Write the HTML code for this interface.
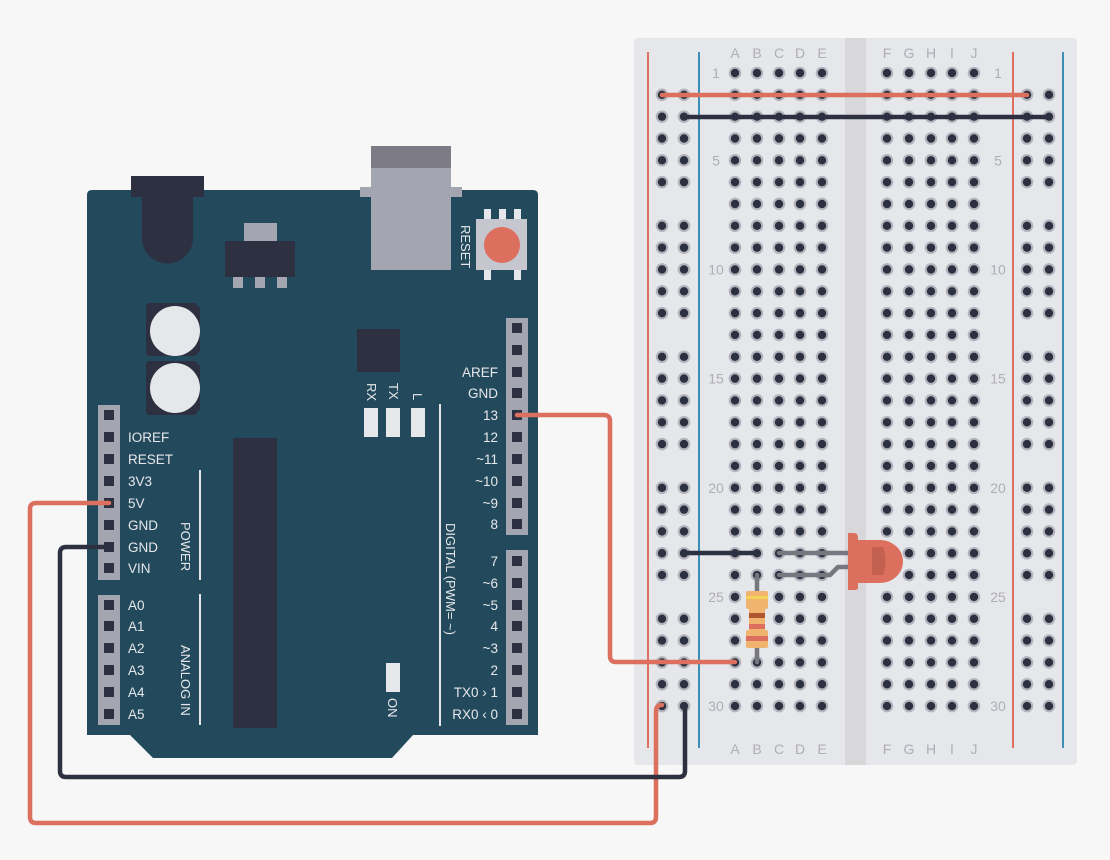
<!DOCTYPE html>
<html><head><meta charset="utf-8"><style>
body{margin:0;background:#f7f7f7;width:1110px;height:860px;overflow:hidden}
svg{display:block}
text{font-family:"Liberation Sans",sans-serif}
</style></head><body>
<svg id="s" width="1110" height="860" xmlns="http://www.w3.org/2000/svg">
<rect x="634" y="38" width="443" height="727" rx="4" fill="#e6e7ea"/>
<rect x="845" y="38" width="21" height="727" fill="#d8d8db"/>
<line x1="648" y1="52" x2="648" y2="748" stroke="#dc6f5d" stroke-width="2"/>
<line x1="699" y1="52" x2="699" y2="748" stroke="#3b8fb5" stroke-width="2"/>
<line x1="1013" y1="52" x2="1013" y2="748" stroke="#dc6f5d" stroke-width="2"/>
<line x1="1063" y1="52" x2="1063" y2="748" stroke="#3b8fb5" stroke-width="2"/>
<g id="holes"></g>
<g id="lbl" fill="#aeaeb6" font-size="14" text-anchor="middle"></g>

<path d="M92 190 H533 Q538 190 538 195 V735 H413 L392 758 H153 L130 735 H87 V195 Q87 190 92 190Z" fill="#234a5c"/>
<rect x="131" y="176" width="73" height="21" fill="#2c3041"/>
<path d="M142 197 H193 V238 A25.5 25.5 0 0 1 142 238Z" fill="#2c3041"/>
<rect x="244" y="223" width="33" height="18" fill="#a3a5b0"/>
<rect x="225" y="241" width="70" height="36" fill="#2c3041"/>
<rect x="233" y="277" width="10" height="11" fill="#a3a5b0"/>
<rect x="255" y="277" width="10" height="11" fill="#a3a5b0"/>
<rect x="277" y="277" width="10" height="11" fill="#a3a5b0"/>
<rect x="371" y="146" width="80" height="22" fill="#7c7b86"/>
<rect x="360" y="187" width="102" height="10" fill="#a3a5b0"/>
<rect x="371" y="168" width="80" height="102" fill="#a3a5b0"/>
<rect x="484" y="209" width="7" height="12" fill="#e6e7ea"/><rect x="499" y="209" width="7" height="12" fill="#e6e7ea"/><rect x="514" y="209" width="7" height="12" fill="#e6e7ea"/>
<rect x="484" y="268" width="7" height="12" fill="#e6e7ea"/><rect x="514" y="268" width="7" height="12" fill="#e6e7ea"/>
<rect x="476" y="219" width="51" height="51" fill="#c6c7ce"/>
<circle cx="502" cy="245" r="18" fill="#dc6f5d"/>
<text transform="translate(461,225) rotate(90)" fill="#e6e7ea" font-size="13">RESET</text>
<path d="M150 303 H195 L200 308 V351 L195 356 H150 Q146 356 146 352 V307 Q146 303 150 303Z" fill="#2c3041"/>
<circle cx="175" cy="331" r="25" fill="#e6e7ea"/>
<path d="M150 361 H195 L200 366 V409 L195 415 H150 Q146 415 146 411 V365 Q146 361 150 361Z" fill="#2c3041"/>
<circle cx="175" cy="388" r="25" fill="#e6e7ea"/>
<rect x="357" y="329" width="43" height="43" fill="#2c3041"/>
<text transform="translate(367,383) rotate(90)" fill="#e6e7ea" font-size="13">RX</text>
<text transform="translate(389,383) rotate(90)" fill="#e6e7ea" font-size="13">TX</text>
<text transform="translate(413,393) rotate(90)" fill="#e6e7ea" font-size="13">L</text>
<rect x="364" y="408" width="14" height="29" fill="#e6e7ea"/>
<rect x="386" y="408" width="14" height="29" fill="#e6e7ea"/>
<rect x="411" y="408" width="14" height="29" fill="#e6e7ea"/>
<rect x="233" y="438" width="44" height="290" fill="#2c3041"/>
<rect x="386" y="663" width="14" height="29" fill="#e6e7ea"/>
<text transform="translate(388,698) rotate(90)" fill="#e6e7ea" font-size="13">ON</text>
<line x1="200" y1="470" x2="200" y2="580" stroke="#e6e7ea" stroke-width="2"/>
<line x1="200" y1="594" x2="200" y2="725" stroke="#e6e7ea" stroke-width="2"/>
<line x1="440" y1="404" x2="440" y2="726" stroke="#e6e7ea" stroke-width="2"/>
<text transform="translate(181,522) rotate(90)" fill="#e6e7ea" font-size="13">POWER</text>
<text transform="translate(181,645) rotate(90)" fill="#e6e7ea" font-size="13">ANALOG IN</text>
<text transform="translate(446,523) rotate(90)" fill="#e6e7ea" font-size="13">DIGITAL (PWM= ~)</text>
<rect x="98" y="405" width="22" height="175" fill="#a3a5b0"/>
<rect x="98" y="595" width="22" height="130" fill="#a3a5b0"/>
<rect x="506" y="318" width="22" height="217" fill="#a3a5b0"/>
<rect x="506" y="550" width="22" height="175" fill="#a3a5b0"/>
<g id="pins"></g>
<g id="al" fill="#e6e7ea" font-size="13.5"></g>

<g fill="none" stroke-width="4.5" stroke-linecap="round" stroke-linejoin="round">
<path d="M517 415 H604 Q610 415 610 421 V656 Q610 662 616 662 H735" stroke="#dc6f5d"/>
<path d="M109 503 H36 Q30 503 30 509 V817 Q30 823 36 823 H650 Q656 823 656 817 V711 Q656 705 662 705" stroke="#dc6f5d"/>
<path d="M109 547 H66 Q60 547 60 553 V771 Q60 777 66 777 H679 Q685 777 685 771 V705" stroke="#2c3041"/>
<path d="M662 95 H1027" stroke="#dc6f5d"/>
<path d="M684 117 H1049" stroke="#2c3041"/>
<path d="M684 553 H757" stroke="#2c3041"/>
<path d="M779 553 H850" stroke="#77777f"/>
<path d="M779 575 H830 L838 567 H850" stroke="#77777f"/>
<path d="M757 575 V662" stroke="#77777f"/>
</g>
<rect x="746" y="591" width="22" height="18" rx="2" fill="#f0b46f"/>
<rect x="749" y="605" width="16" height="28" fill="#f0b46f"/>
<rect x="746" y="630" width="22" height="18" rx="2" fill="#f0b46f"/>
<rect x="746" y="596" width="22" height="3" fill="#f5d25a"/>
<rect x="749" y="613" width="16" height="5" fill="#b0562e"/>
<rect x="749" y="624" width="16" height="5" fill="#dc6f5d"/>
<rect x="746" y="636" width="22" height="5" fill="#dc6f5d"/>
<path d="M848 533 H854 Q858 533 858 538 V540 H880 A23 21.5 0 0 1 880 583 H858 V588 Q858 590 854 590 H848Z" fill="#dc6f5d"/>
<path d="M872 547 H883 Q888 560 883 575 H872Z" fill="#c4604f"/>
</svg>
<script>
const NS="http://www.w3.org/2000/svg";
function el(p,t,a,txt){const e=document.createElementNS(NS,t);for(const k in a)e.setAttribute(k,a[k]);if(txt)e.textContent=txt;document.getElementById(p).appendChild(e);}
const ry=r=>73+(r-1)*21.83;
const cols=[735,757,779,800,822,887,909,931,952,974];
function hole(x,y){el('holes','circle',{cx:x,cy:y,r:6.3,fill:'#b3b4bc'});el('holes','circle',{cx:x,cy:y,r:4.2,fill:'#2c3041'});}
for(let r=1;r<=30;r++){for(const x of cols)hole(x,ry(r));
 if(r>=2&&(r-1)%6!==0){for(const x of [662,684,1027,1049])hole(x,ry(r));}
 if(r==1||r%5==0){el('lbl','text',{x:716,y:ry(r)+5},String(r));el('lbl','text',{x:998,y:ry(r)+5},String(r));}}
"ABCDEFGHIJ".split("").forEach((c,i)=>{el('lbl','text',{x:cols[i],y:58},c);el('lbl','text',{x:cols[i],y:754},c);});
function pin(x,y){el('pins','rect',{x:x-5,y:y-5,width:10,height:10,fill:'#2c3041'});}
const L1=[415,437,459,481,503,525,547,568],L2=[605,626,648,670,692,714];
L1.forEach(y=>pin(109,y));L2.forEach(y=>pin(109,y));
const R1=[328,350,372,393,415,437,459,481,503,524],R2=[561,583,605,626,648,670,692,714];
R1.forEach(y=>pin(517,y));R2.forEach(y=>pin(517,y));
["","IOREF","RESET","3V3","5V","GND","GND","VIN"].forEach((t,i)=>{if(t)el('al','text',{x:128,y:L1[i]+5},t)});
["A0","A1","A2","A3","A4","A5"].forEach((t,i)=>el('al','text',{x:128,y:L2[i]+5},t));
["","","AREF","GND","13","12","~11","~10","~9","8"].forEach((t,i)=>{if(t)el('al','text',{x:498,y:R1[i]+5,'text-anchor':'end'},t)});
["7","~6","~5","4","~3","2","TX0 › 1","RX0 ‹ 0"].forEach((t,i)=>el('al','text',{x:498,y:R2[i]+5,'text-anchor':'end'},t));
</script>
</body></html>
